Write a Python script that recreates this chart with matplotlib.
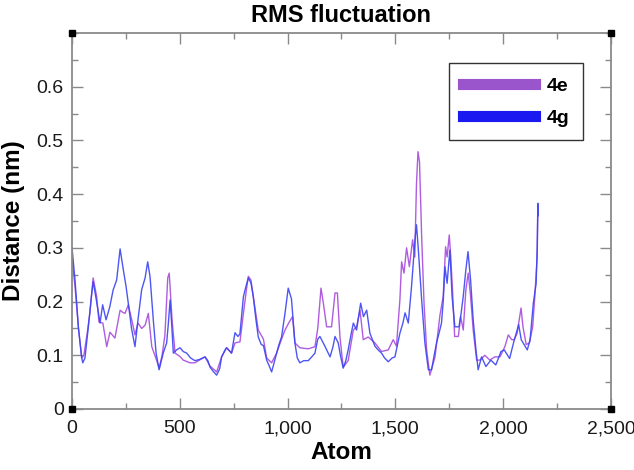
import matplotlib
matplotlib.use("Agg")
import matplotlib.pyplot as plt
from matplotlib.ticker import MultipleLocator, FuncFormatter

plt.rcParams['font.family'] = ['Liberation Sans', 'DejaVu Sans']

title = "RMS fluctuation"
xlabel = "Atom"
ylabel = "Distance (nm)"
series_names = ["4e", "4g"]

atom_4e = [0, 14, 30, 45, 55, 70, 83, 98, 114, 125, 143, 161, 176, 199, 212, 223, 235, 246,
           261, 277, 292, 306, 323, 339, 354, 370, 393, 404, 418, 431, 444, 451, 464, 478,
           500, 516, 547, 570, 595, 617, 640, 671, 694, 717, 740, 756, 779, 795, 810, 818,
           830, 841, 864, 888, 903, 926, 949, 972, 988, 1005, 1023, 1034, 1057, 1096, 1127,
           1140, 1155, 1166, 1181, 1204, 1220, 1231, 1243, 1258, 1281, 1305, 1320, 1336,
           1351, 1374, 1405, 1436, 1467, 1490, 1505, 1521, 1529, 1540, 1552, 1565, 1580,
           1590, 1598, 1605, 1612, 1622, 1633, 1645, 1660, 1684, 1707, 1722, 1733, 1740,
           1750, 1757, 1765, 1775, 1792, 1803, 1815, 1827, 1838, 1849, 1861, 1877, 1892,
           1915, 1938, 1961, 1985, 2008, 2024, 2040, 2051, 2065, 2083, 2092, 2107, 2122,
           2137, 2147, 2158, 2161]
rmsf_4e = [0.28, 0.227, 0.15, 0.095, 0.10, 0.14, 0.179, 0.244, 0.21, 0.162, 0.16, 0.116,
           0.143, 0.132, 0.16, 0.184, 0.18, 0.178, 0.194, 0.166, 0.138, 0.16, 0.15, 0.156,
           0.178, 0.116, 0.09, 0.076, 0.10, 0.138, 0.244, 0.253, 0.166, 0.104, 0.098, 0.091,
           0.086, 0.086, 0.092, 0.097, 0.08, 0.069, 0.097, 0.114, 0.104, 0.123, 0.125, 0.178,
           0.225, 0.247, 0.24, 0.209, 0.147, 0.13, 0.095, 0.086, 0.104, 0.13, 0.147, 0.16,
           0.172, 0.123, 0.114, 0.112, 0.116, 0.15, 0.225, 0.197, 0.153, 0.153, 0.216, 0.216,
           0.134, 0.078, 0.09, 0.147, 0.153, 0.184, 0.129, 0.134, 0.123, 0.107, 0.11, 0.129,
           0.117, 0.203, 0.274, 0.253, 0.30, 0.265, 0.315, 0.283, 0.42, 0.479, 0.46, 0.321,
           0.197, 0.11, 0.063, 0.097, 0.175, 0.21, 0.302, 0.283, 0.324, 0.283, 0.222, 0.135,
           0.135, 0.172, 0.147, 0.222, 0.253, 0.21, 0.147, 0.091, 0.091, 0.10, 0.091, 0.097,
           0.097, 0.116, 0.138, 0.129, 0.129, 0.141, 0.188, 0.153, 0.12, 0.123, 0.153, 0.21,
           0.284, 0.377]

atom_4g = [0, 14, 30, 45, 50, 60, 75, 90, 98, 114, 130, 142, 158, 175, 191, 207, 223, 238,
           250, 261, 276, 292, 306, 323, 339, 351, 362, 377, 390, 404, 423, 439, 447, 455,
           462, 470, 485, 501, 516, 532, 550, 570, 590, 617, 630, 640, 655, 671, 685, 694,
           710, 717, 740, 756, 770, 779, 795, 808, 818, 830, 841, 852, 864, 878, 888, 903,
           915, 926, 940, 949, 960, 972, 988, 1003, 1018, 1034, 1045, 1057, 1075, 1096,
           1112, 1127, 1140, 1150, 1173, 1197, 1210, 1220, 1235, 1245, 1258, 1270, 1281,
           1295, 1305, 1320, 1339, 1352, 1367, 1382, 1405, 1420, 1436, 1450, 1467, 1485,
           1498, 1510, 1521, 1535, 1545, 1560, 1575, 1591, 1598, 1606, 1614, 1622, 1637,
           1653, 1668, 1680, 1691, 1705, 1714, 1722, 1730, 1740, 1753, 1763, 1776, 1795,
           1805, 1815, 1827, 1837, 1849, 1861, 1874, 1884, 1900, 1920, 1943, 1966, 1990,
           2005, 2030, 2050, 2072, 2084, 2112, 2125, 2140, 2153, 2158, 2161, 2163]
rmsf_4g = [0.30, 0.24, 0.15, 0.095, 0.086, 0.095, 0.15, 0.21, 0.237, 0.20, 0.16, 0.194,
           0.166, 0.19, 0.222, 0.24, 0.298, 0.259, 0.23, 0.197, 0.15, 0.116, 0.166, 0.222,
           0.244, 0.274, 0.246, 0.166, 0.104, 0.073, 0.104, 0.123, 0.16, 0.203, 0.16, 0.104,
           0.11, 0.114, 0.107, 0.104, 0.095, 0.09, 0.092, 0.097, 0.09, 0.078, 0.07, 0.063,
           0.075, 0.097, 0.11, 0.114, 0.104, 0.142, 0.135, 0.14, 0.209, 0.23, 0.244, 0.235,
           0.209, 0.17, 0.134, 0.12, 0.118, 0.091, 0.08, 0.069, 0.09, 0.104, 0.12, 0.134,
           0.178, 0.225, 0.205, 0.123, 0.095, 0.086, 0.09, 0.09, 0.097, 0.104, 0.13, 0.135,
           0.117, 0.097, 0.115, 0.135, 0.123, 0.10, 0.076, 0.09, 0.11, 0.14, 0.16, 0.147,
           0.197, 0.172, 0.184, 0.141, 0.117, 0.11, 0.104, 0.095, 0.088, 0.095, 0.097, 0.12,
           0.141, 0.16, 0.179, 0.16, 0.228, 0.315, 0.343, 0.30, 0.25, 0.203, 0.123, 0.073,
           0.073, 0.10, 0.123, 0.145, 0.16, 0.20, 0.265, 0.234, 0.296, 0.21, 0.153, 0.153,
           0.178, 0.21, 0.259, 0.293, 0.24, 0.166, 0.11, 0.073, 0.097, 0.079, 0.091, 0.082,
           0.107, 0.11, 0.094, 0.126, 0.157, 0.129, 0.11, 0.129, 0.197, 0.234, 0.30, 0.383,
           0.36]

yticks = [0, 0.1, 0.2, 0.3, 0.4, 0.5, 0.6]

color_4e = "#b05ce0"
color_4g = "#3a44f2"
spine_color = "#8a8a8a"

fig = plt.figure(figsize=(6.34, 4.70), dpi=100)
ax = fig.add_axes([0.1136, 0.1298, 0.85, 0.80])

ax.plot(atom_4e, rmsf_4e, color=color_4e, lw=1.0, label=series_names[0])
ax.plot(atom_4g, rmsf_4g, color=color_4g, lw=1.0, label=series_names[1], alpha=0.9)

ax.set_xlim(0, 2500)
ax.set_ylim(0, 0.7)
ax.xaxis.set_major_locator(MultipleLocator(500))
ax.xaxis.set_minor_locator(MultipleLocator(250))
ax.set_yticks(yticks)
ax.yaxis.set_minor_locator(MultipleLocator(0.05))
ax.xaxis.set_major_formatter(FuncFormatter(lambda v, p: f"{int(v):,}"))
ax.yaxis.set_major_formatter(FuncFormatter(lambda v, p: "0" if abs(v) < 1e-9 else f"{v:.1f}"))

ax.tick_params(which='both', direction='in', top=True, right=True, color=spine_color,
               labelsize=14, labelcolor="#1a1a1a", width=1.0)
ax.tick_params(which='major', length=8)
ax.tick_params(which='minor', length=4)
ax.tick_params(axis='x', pad=8)
ax.tick_params(axis='y', pad=6)

for s in ax.spines.values():
    s.set_color(spine_color)
    s.set_linewidth(1.3)

# corner markers
ax.plot([0, 1, 0, 1], [0, 0, 1, 1], 's', color='black', ms=4, transform=ax.transAxes,
        clip_on=False, zorder=5)

ax.set_title(title, fontsize=17, fontweight='bold', pad=8)
ax.set_xlabel(xlabel, fontsize=17.5, fontweight='bold', labelpad=3)
ax.set_ylabel(ylabel, fontsize=17.5, fontweight='bold', labelpad=8)

leg = ax.legend(loc='upper right', bbox_to_anchor=(0.948, 0.92), frameon=True,
                fancybox=False, edgecolor='black', handlelength=3.7, handleheight=0.8,
                borderpad=0.7, labelspacing=0.7, handletextpad=0.6, borderaxespad=0,
                prop={'weight': 'bold', 'size': 14})
leg.get_frame().set_linewidth(1.0)
leg_colors = ["#9b55cc", "#1a1af0"]
for h, c in zip(leg.get_lines(), leg_colors):
    h.set_linewidth(8)
    h.set_color(c)
    h.set_alpha(1)

fig.savefig("out.png", dpi=100)
